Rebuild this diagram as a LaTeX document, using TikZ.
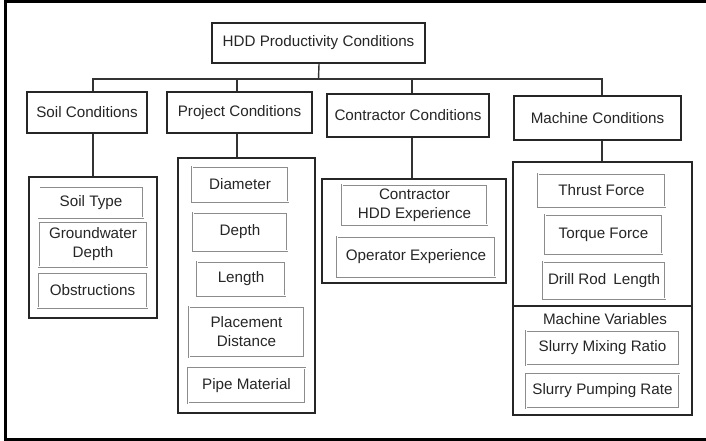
\documentclass[tikz,border=0pt]{standalone}
\usepackage{fontspec}
\setmainfont{Liberation Sans}
\begin{document}
\begin{tikzpicture}[x=1bp,y=-1bp,
  txt/.style={font=\fontsize{15.2bp}{19bp}\selectfont, align=center, text=black!85},
  mainbox/.style={txt, draw=black!85, line width=2.4bp, inner sep=0pt},
  grpbox/.style={draw=black!85, line width=1.8bp, inner sep=0pt},
  itembox/.style={txt, draw=black!45, line width=0.7bp, double=white, double distance=1bp, inner sep=0pt},
  link/.style={draw=black!80, line width=1.4bp},
  frame/.style={draw=black, line width=3bp}]
\useasboundingbox (0,0) rectangle (706,441);
\fill[white] (0,0) rectangle (706,441);
% outer frame
\draw[frame] (707,1.5) -- (5.5,1.5) -- (5.5,439.5) -- (707,439.5);

% main nodes
\node[mainbox, minimum width=213bp, minimum height=40bp] (top) at (318.5,43) {HDD Productivity Conditions};
\node[mainbox, minimum width=120bp, minimum height=41bp] (soil) at (87,112.5) {Soil Conditions};
\node[mainbox, minimum width=145bp, minimum height=41bp] (project) at (239.5,112.5) {Project Conditions};
\node[mainbox, minimum width=162bp, minimum height=43bp] (contractor) at (408,115.5) {Contractor Conditions};
\node[mainbox, minimum width=167bp, minimum height=44bp] (machine) at (597.5,118) {Machine Conditions};

% group boxes
\node[grpbox, minimum width=128bp, minimum height=141bp] (soilgrp) at (93,247.5) {};
\node[grpbox, minimum width=137bp, minimum height=255bp] (projgrp) at (246.5,285.5) {};
\node[grpbox, minimum width=184bp, minimum height=104bp, line width=2.2bp] (contgrp) at (414,231) {};
\node[grpbox, minimum width=179bp, minimum height=253bp] (machgrp) at (602.5,288.5) {};

% helper coordinates
\coordinate (bus) at (0,79);
\coordinate (dS) at (93,0);
\coordinate (dP) at (237,0);
\coordinate (dC) at (412,0);
\coordinate (dM) at (602,0);
\coordinate (div) at (0,306);

% tree connectors
\draw[link] (top.south -| 319,0) -- (top.south |- bus);
\draw[link] (soil.north -| dS) -- (dS |- bus) -- (dM |- bus) -- (machine.north -| dM);
\draw[link] (project.north -| dP) -- (dP |- bus);
\draw[link] (contractor.north -| dC) -- (dC |- bus);
\draw[link] (soil.south -| dS) -- (soilgrp.north -| dS);
\draw[link] (project.south -| dP) -- (projgrp.north -| dP);
\draw[link] (contractor.south -| dC) -- (contgrp.north -| dC);
\draw[link] (machine.south -| dM) -- (machgrp.north -| dM);
\draw[grpbox] (machgrp.west |- div) -- (machgrp.east |- div);

% soil items
\node[itembox, minimum width=104bp, minimum height=31bp] (soiltype) at (91,202.5) {Soil Type};
\node[itembox, minimum width=108bp, minimum height=45bp] (ground) at (93,244.5) {Groundwater\\Depth};
\node[itembox, minimum width=109bp, minimum height=35bp] (obst) at (92.5,290.5) {Obstructions};

% project items
\node[itembox, minimum width=96bp, minimum height=35bp] (diam) at (240,184.5) {Diameter};
\node[itembox, minimum width=94bp, minimum height=38bp] (depth) at (240,232) {Depth};
\node[itembox, minimum width=88bp, minimum height=34bp] (length) at (241,279) {Length};
\node[itembox, minimum width=115bp, minimum height=50bp] (place) at (246.5,332) {Placement\\Distance};
\node[itembox, minimum width=117bp, minimum height=35bp] (pipe) at (246.5,385.5) {Pipe Material};

% contractor items
\node[itembox, minimum width=145bp, minimum height=40bp] (hddexp) at (414.5,205) {Contractor\\HDD Experience};
\node[itembox, minimum width=158bp, minimum height=40bp] (opexp) at (416,257) {Operator Experience};

% machine items
\node[itembox, minimum width=127bp, minimum height=33bp] (thrust) at (601.5,190.5) {Thrust Force};
\node[itembox, minimum width=117bp, minimum height=39bp] (torque) at (603.5,234.5) {Torque Force};
\node[itembox, minimum width=122bp, minimum height=37bp] (drill) at (604,280.5) {Drill Rod\hspace{3bp} Length};
\node[txt, inner sep=0pt] (machvar) at (605,319) {Machine Variables};
\node[itembox, minimum width=153bp, minimum height=34bp] (mixing) at (602.5,348) {Slurry Mixing Ratio};
\node[itembox, minimum width=153bp, minimum height=34bp] (pumping) at (602.5,391) {Slurry Pumping Rate};
\end{tikzpicture}
\end{document}
